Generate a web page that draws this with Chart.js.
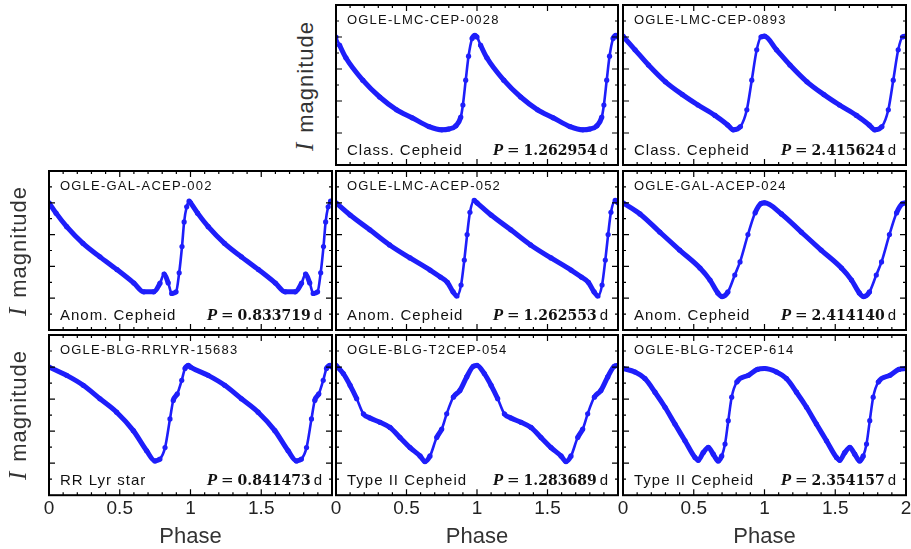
<!DOCTYPE html>
<html>
<head>
<meta charset="utf-8">
<script src="https://cdn.jsdelivr.net/npm/chart.js@4.4.1/dist/chart.umd.min.js"></script>
<style>
  body { margin: 0; background: #fff; width: 911px; height: 549px; overflow: hidden; position: relative;
         font-family: "Liberation Sans", Arial, sans-serif; }
  canvas { position: absolute; }
  .ylab { position: absolute; transform: translate(-50%, -50%) rotate(-90deg); white-space: nowrap;
          font-size: 22px; letter-spacing: 1px; color: #333; }
  .ylab i { font-family: "Liberation Serif", serif; font-size: 25px; margin-right: 9px; }
  .xlab { position: absolute; transform: translate(-50%, -50%); font-size: 22px; color: #333; }
</style>
</head>
<body>
<script>
// star info, one entry per panel
const starNames = ["OGLE-LMC-CEP-0028", "OGLE-LMC-CEP-0893", "OGLE-GAL-ACEP-002", "OGLE-LMC-ACEP-052",
                   "OGLE-GAL-ACEP-024", "OGLE-BLG-RRLYR-15683", "OGLE-BLG-T2CEP-054", "OGLE-BLG-T2CEP-614"];
const starTypes = ["Class. Cepheid", "Class. Cepheid", "Anom. Cepheid", "Anom. Cepheid",
                   "Anom. Cepheid", "RR Lyr star", "Type II Cepheid", "Type II Cepheid"];
const periods = ["1.262954", "2.415624", "0.833719", "1.262553", "2.414140", "0.841473", "1.283689", "2.354157"];
const panelCol = [1, 2, 0, 1, 2, 0, 1, 2];
const panelRow = [0, 0, 1, 1, 1, 2, 2, 2];

const phaseTicks = [0, 0.5, 1, 1.5, 2];

// one pulsation cycle per star (phase 0..1), relative I magnitude
const phase_CEP0028 = [0, 0.025, 0.07, 0.19, 0.31, 0.43, 0.54, 0.66, 0.75, 0.80, 0.85, 0.885, 0.90, 0.92, 0.94, 0.965, 0.985];
const mag_CEP0028   = [0.20, 0.25, 0.33, 0.47, 0.575, 0.655, 0.705, 0.76, 0.78, 0.775, 0.755, 0.70, 0.625, 0.47, 0.32, 0.21, 0.19];

const phase_CEP0893 = [0, 0.085, 0.18, 0.30, 0.42, 0.53, 0.65, 0.74, 0.78, 0.83, 0.875, 0.91, 0.945, 0.975];
const mag_CEP0893   = [0.195, 0.28, 0.375, 0.48, 0.56, 0.625, 0.69, 0.75, 0.78, 0.76, 0.655, 0.47, 0.28, 0.20];

const phase_ACEP002 = [0, 0.05, 0.125, 0.24, 0.36, 0.48, 0.60, 0.67, 0.74, 0.785, 0.813, 0.843, 0.867, 0.898, 0.92, 0.94, 0.955, 0.973, 0.99];
const mag_ACEP002   = [0.20, 0.265, 0.35, 0.455, 0.54, 0.62, 0.705, 0.76, 0.76, 0.705, 0.648, 0.705, 0.77, 0.76, 0.64, 0.475, 0.32, 0.225, 0.19];

const phase_ACEP052 = [0, 0.1, 0.24, 0.38, 0.525, 0.667, 0.74, 0.79, 0.83, 0.858, 0.887, 0.91, 0.93, 0.95, 0.98];
const mag_ACEP052   = [0.2, 0.277, 0.37, 0.465, 0.547, 0.623, 0.667, 0.70, 0.76, 0.786, 0.717, 0.56, 0.40, 0.26, 0.185];

const phase_ACEP024 = [0, 0.12, 0.26, 0.40, 0.544, 0.615, 0.67, 0.70, 0.742, 0.79, 0.827, 0.883, 0.933, 0.975];
const mag_ACEP024   = [0.2, 0.27, 0.384, 0.497, 0.61, 0.686, 0.767, 0.79, 0.76, 0.654, 0.572, 0.40, 0.264, 0.205];

const phase_RRLYR = [0, 0.125, 0.242, 0.36, 0.478, 0.596, 0.69, 0.749, 0.784, 0.82, 0.855, 0.878, 0.907, 0.938, 0.961, 0.985];
const mag_RRLYR   = [0.2, 0.252, 0.314, 0.398, 0.482, 0.597, 0.723, 0.786, 0.774, 0.703, 0.524, 0.409, 0.367, 0.283, 0.209, 0.19];

const phase_T2CEP054 = [0, 0.052, 0.1, 0.147, 0.194, 0.241, 0.312, 0.383, 0.454, 0.525, 0.596, 0.631, 0.667, 0.714, 0.75, 0.785, 0.832, 0.879, 0.927, 0.974];
const mag_T2CEP054   = [0.19, 0.241, 0.314, 0.398, 0.492, 0.518, 0.545, 0.577, 0.64, 0.703, 0.755, 0.79, 0.755, 0.64, 0.587, 0.492, 0.388, 0.346, 0.262, 0.195];

const phase_T2CEP614 = [0, 0.085, 0.155, 0.226, 0.297, 0.367, 0.438, 0.509, 0.532, 0.567, 0.603, 0.638, 0.673, 0.698, 0.721, 0.744, 0.768, 0.804, 0.886, 0.95];
const mag_T2CEP614   = [0.209, 0.231, 0.272, 0.357, 0.451, 0.556, 0.66, 0.765, 0.782, 0.734, 0.702, 0.744, 0.786, 0.755, 0.681, 0.535, 0.388, 0.294, 0.252, 0.215];

const curves = [
  [phase_CEP0028, mag_CEP0028], [phase_CEP0893, mag_CEP0893], [phase_ACEP002, mag_ACEP002],
  [phase_ACEP052, mag_ACEP052], [phase_ACEP024, mag_ACEP024], [phase_RRLYR, mag_RRLYR],
  [phase_T2CEP054, mag_T2CEP054], [phase_T2CEP614, mag_T2CEP614]
];

// panel frames in the page (px)
const colLeft = [49, 336, 623], colRight = [332, 618, 906];
const rowTop = [5, 171, 335], rowBottom = [165, 330, 494];
const PAD = 14, PADV = 4, AXIS_H = 28;
const BLUE = "rgb(30,30,250)";

// same cycle shown twice, phase 0..2
function foldedPoints(ph, mg) {
  const pts = [];
  for (let c = 0; c < 3; c++) {
    ph.forEach((p, i) => { if (p + c <= 2) pts.push({ x: p + c, y: mg[i] }); });
  }
  return pts;
}

// steep rising branches are sparsely sampled, so draw them thinner
function segWidth(ctx) {
  const dx = Math.abs(ctx.p1.x - ctx.p0.x), dy = Math.abs(ctx.p1.y - ctx.p0.y);
  return dy > 2.2 * dx ? 2.6 : 5;
}

const framePlugin = {
  id: "frame",
  afterDatasetsDraw(chart, args, opts) {
    const { ctx, chartArea: a, scales: { x, y } } = chart;
    ctx.save();
    ctx.strokeStyle = "#000";
    ctx.lineWidth = 1.2;
    ctx.beginPath();
    for (let k = 0; k <= 20; k++) {
      const px = x.getPixelForValue(k / 10);
      const len = k % 5 === 0 ? 6 : 3;
      ctx.moveTo(px, a.top); ctx.lineTo(px, a.top + len);
      ctx.moveTo(px, a.bottom); ctx.lineTo(px, a.bottom - len);
    }
    for (let k = 1; k < 10; k++) {
      const py = y.getPixelForValue(k / 10);
      const len = k % 2 === 0 ? 6 : 3;
      ctx.moveTo(a.left, py); ctx.lineTo(a.left + len, py);
      ctx.moveTo(a.right, py); ctx.lineTo(a.right - len, py);
    }
    ctx.stroke();
    ctx.lineWidth = 2;
    ctx.strokeRect(a.left, a.top, a.width, a.height);

    // labels inside the panel
    ctx.fillStyle = "#111";
    ctx.textBaseline = "alphabetic";
    ctx.textAlign = "left";
    ctx.font = '13px "Liberation Sans"';
    ctx.letterSpacing = "1.2px";
    ctx.fillText(opts.name, a.left + 11, a.top + 19);
    ctx.font = '15px "Liberation Sans"';
    ctx.letterSpacing = "1px";
    ctx.fillText(opts.type, a.left + 11, a.bottom - 10);

    ctx.letterSpacing = "0px";
    ctx.textAlign = "right";
    let xr = a.right - 10;
    const yb = a.bottom - 10;
    ctx.font = '15px "Liberation Sans"';
    ctx.fillText("d", xr, yb);
    xr -= ctx.measureText("d").width + 3;
    ctx.font = '600 14px "DejaVu Serif"';
    ctx.fillText(opts.period, xr, yb);
    xr -= ctx.measureText(opts.period).width + 4;
    ctx.font = '15px "DejaVu Sans"';
    ctx.fillText("=", xr, yb);
    xr -= ctx.measureText("=").width + 4;
    ctx.font = 'italic bold 17px "Liberation Serif"';
    ctx.fillText("P", xr, yb);
    ctx.restore();
  }
};

starNames.forEach((name, i) => {
  const col = panelCol[i], row = panelRow[i];
  const bottomRow = row === 2;
  const w = colRight[col] - colLeft[col], h = rowBottom[row] - rowTop[row];
  const cv = document.createElement("canvas");
  cv.width = w + 2 * PAD;
  cv.height = h + 2 * PADV + (bottomRow ? AXIS_H : 0);
  cv.style.left = (colLeft[col] - PAD) + "px";
  cv.style.top = (rowTop[row] - PADV) + "px";
  document.body.appendChild(cv);

  new Chart(cv.getContext("2d"), {
    type: "line",
    data: {
      datasets: [{
        data: foldedPoints(curves[i][0], curves[i][1]),
        borderColor: BLUE,
        backgroundColor: BLUE,
        borderWidth: 5,
        segment: { borderWidth: segWidth },
        pointRadius: 2.6,
        pointBorderWidth: 0,
        cubicInterpolationMode: "monotone"
      }]
    },
    options: {
      responsive: false,
      animation: false,
      devicePixelRatio: 1,
      layout: { padding: { left: PAD, right: PAD, top: PADV, bottom: PADV } },
      plugins: { legend: { display: false }, tooltip: { enabled: false },
                 frame: { name: name, type: starTypes[i], period: periods[i] } },
      scales: {
        x: {
          type: "linear", min: 0, max: 2,
          display: bottomRow,
          grid: { display: false, drawTicks: false },
          border: { display: false },
          afterBuildTicks: s => { s.ticks = phaseTicks.map(v => ({ value: v })); },
          ticks: {
            padding: 2, maxRotation: 0, autoSkip: false, color: "#222",
            font: { family: "Liberation Sans", size: 19 },
            callback: v => (v === 2 && col < 2) ? "" : String(v)
          }
        },
        y: { type: "linear", min: 0, max: 1, reverse: true, display: false }
      }
    },
    plugins: [framePlugin]
  });
});

// axis titles
[[305, 86], [18, 251], [18, 415]].forEach(([cx, cy]) => {
  const d = document.createElement("div");
  d.className = "ylab";
  d.style.left = cx + "px"; d.style.top = cy + "px";
  d.innerHTML = "<i>I</i>magnitude";
  document.body.appendChild(d);
});
colLeft.forEach((l, c) => {
  const d = document.createElement("div");
  d.className = "xlab";
  d.style.left = ((l + colRight[c]) / 2) + "px"; d.style.top = "536px";
  d.textContent = "Phase";
  document.body.appendChild(d);
});
</script>
</body>
</html>
